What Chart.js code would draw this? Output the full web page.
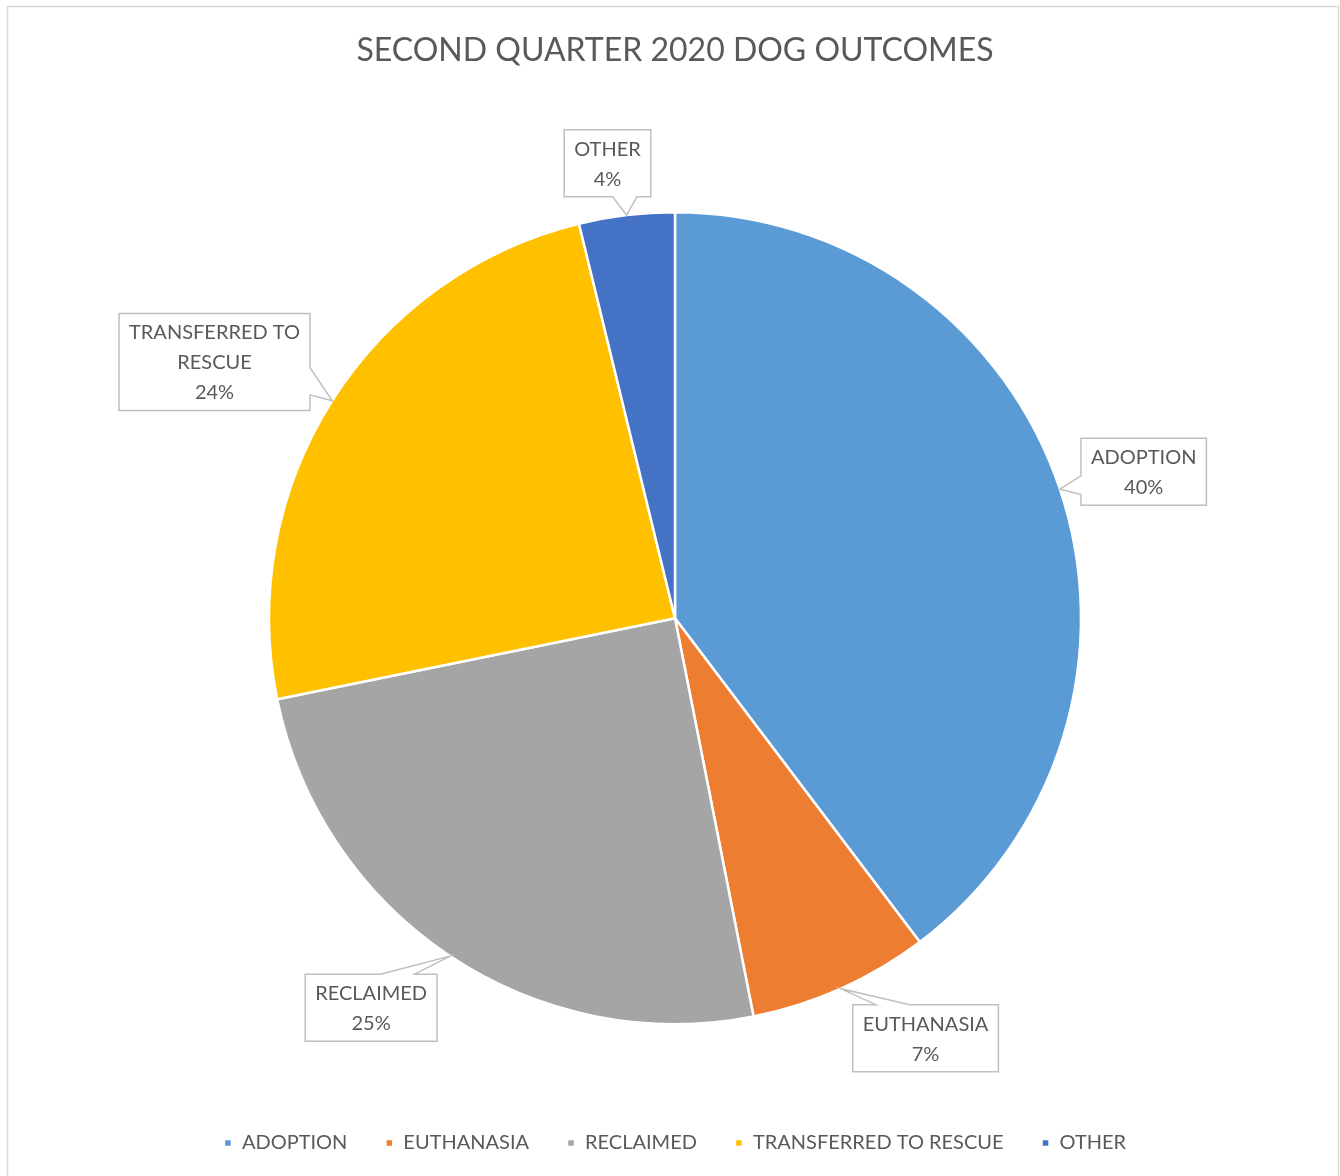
<!DOCTYPE html>
<html><head><meta charset="utf-8">
<script src="https://cdn.jsdelivr.net/npm/chart.js@4/dist/chart.umd.min.js"></script>
<style>html,body{margin:0;padding:0;background:#fff;} #wrap{width:1340px;height:1176px;position:relative;overflow:hidden;}</style>
</head><body><div id="wrap"><canvas id="c" width="1340" height="1176"></canvas></div>
<script>
const titleText = 'SECOND QUARTER 2020 DOG OUTCOMES';
const categories = ['ADOPTION', 'EUTHANASIA', 'RECLAIMED', 'TRANSFERRED TO RESCUE', 'OTHER'];
const shares = [39.7, 7.2, 24.9, 24.4, 3.8];
const colors = ['#5B9BD5', '#ED7D31', '#A5A5A5', '#FFC000', '#4472C4'];
// callout placement (layout only): angular shift from slice mid-angle (deg) and distance of box centre from pie centre (px)
const calloutAngleShift = [1.2, -6.7, 4.3, -3.3, -1.6];
const calloutDistance = [491, 489, 494, 527, 460];

const FONT = 'Lato, "Open Sans", sans-serif';
const TEXT = '#595959';

const framePlugin = {
  id: 'frame',
  beforeDraw(chart) {
    const ctx = chart.ctx;
    ctx.save();
    ctx.fillStyle = '#ffffff';
    ctx.fillRect(0, 0, chart.width, chart.height);
    ctx.strokeStyle = '#d9d9d9';
    ctx.lineWidth = 1.5;
    ctx.strokeRect(7.5, 6.5, 1331, 1200);
    ctx.restore();
  }
};

function wrapText(ctx, text, maxW) {
  const words = text.split(' ');
  const lines = [];
  let cur = '';
  for (const w of words) {
    const t = cur ? cur + ' ' + w : w;
    if (cur && ctx.measureText(t).width > maxW) { lines.push(cur); cur = w; }
    else cur = t;
  }
  if (cur) lines.push(cur);
  return lines;
}

const calloutPlugin = {
  id: 'callouts',
  afterDatasetsDraw(chart) {
    const ctx = chart.ctx;
    const meta = chart.getDatasetMeta(0);
    const data = chart.data.datasets[0].data;
    const total = data.reduce((a, b) => a + b, 0);
    ctx.save();
    ctx.font = '20px ' + FONT;
    const lineH = 30, padX = 10, padY = 3.5;
    meta.data.forEach((arc, i) => {
      const p = arc.getProps(['x', 'y', 'startAngle', 'endAngle', 'outerRadius'], true);
      const mid = (p.startAngle + p.endAngle) / 2;
      const tip = { x: p.x + Math.cos(mid) * p.outerRadius, y: p.y + Math.sin(mid) * p.outerRadius };
      const a2 = mid + calloutAngleShift[i] * Math.PI / 180;
      const cx = p.x + Math.cos(a2) * calloutDistance[i];
      const cy = p.y + Math.sin(a2) * calloutDistance[i];
      const lines = wrapText(ctx, chart.data.labels[i], 175);
      lines.push(Math.round(data[i] / total * 100) + '%');
      const w = Math.max(...lines.map(l => ctx.measureText(l).width)) + 2 * padX;
      const h = lines.length * lineH + 2 * padY;
      const L = cx - w / 2, R = cx + w / 2, T = cy - h / 2, B = cy + h / 2;
      const nx = (tip.x - cx) / (w / 2), ny = (tip.y - cy) / (h / 2);
      let edge;
      if (Math.abs(nx) > Math.abs(ny)) edge = nx > 0 ? 'right' : 'left';
      else edge = ny > 0 ? 'bottom' : 'top';
      const clamp = (v, a, b) => Math.max(a, Math.min(b, v));
      const horiz = edge === 'top' || edge === 'bottom';
      const len = horiz ? w : h;
      const margin = Math.min(40, len * 0.3);
      const bw = Math.min(34, len * 0.28);
      const bc = horiz ? clamp(tip.x, L + margin, R - margin) : clamp(tip.y, T + margin, B - margin);
      ctx.beginPath();
      ctx.moveTo(L, T);
      if (edge === 'top') { ctx.lineTo(bc - bw / 2, T); ctx.lineTo(tip.x, tip.y); ctx.lineTo(bc + bw / 2, T); }
      ctx.lineTo(R, T);
      if (edge === 'right') { ctx.lineTo(R, bc - bw / 2); ctx.lineTo(tip.x, tip.y); ctx.lineTo(R, bc + bw / 2); }
      ctx.lineTo(R, B);
      if (edge === 'bottom') { ctx.lineTo(bc + bw / 2, B); ctx.lineTo(tip.x, tip.y); ctx.lineTo(bc - bw / 2, B); }
      ctx.lineTo(L, B);
      if (edge === 'left') { ctx.lineTo(L, bc + bw / 2); ctx.lineTo(tip.x, tip.y); ctx.lineTo(L, bc - bw / 2); }
      ctx.closePath();
      ctx.fillStyle = '#ffffff';
      ctx.fill();
      ctx.strokeStyle = '#bfbfbf';
      ctx.lineWidth = 1.5;
      ctx.stroke();
      ctx.fillStyle = TEXT;
      ctx.textAlign = 'center';
      ctx.textBaseline = 'middle';
      lines.forEach((l, k) => ctx.fillText(l, cx, T + padY + lineH * (k + 0.5) + 1));
    });
    ctx.restore();
  }
};

new Chart(document.getElementById('c'), {
  type: 'pie',
  data: {
    labels: categories,
    datasets: [{
      data: shares,
      backgroundColor: colors,
      borderColor: '#ffffff',
      borderWidth: 2.5,
      hoverOffset: 0
    }]
  },
  options: {
    responsive: false,
    animation: false,
    devicePixelRatio: 1,
    radius: 406,
    layout: { padding: { left: 10, right: 0, top: 0, bottom: 13 } },
    plugins: {
      title: {
        display: true,
        text: titleText,
        color: TEXT,
        font: { family: FONT, size: 32, weight: 'normal', lineHeight: 1.2 },
        padding: { top: 31, bottom: 72 }
      },
      legend: {
        position: 'bottom',
        labels: {
          boxWidth: 8,
          boxHeight: 8,
          padding: 38,
          color: TEXT,
          font: { family: FONT, size: 20 }
        }
      },
      tooltip: { enabled: false }
    }
  },
  plugins: [framePlugin, calloutPlugin]
});
</script>
</body></html>
